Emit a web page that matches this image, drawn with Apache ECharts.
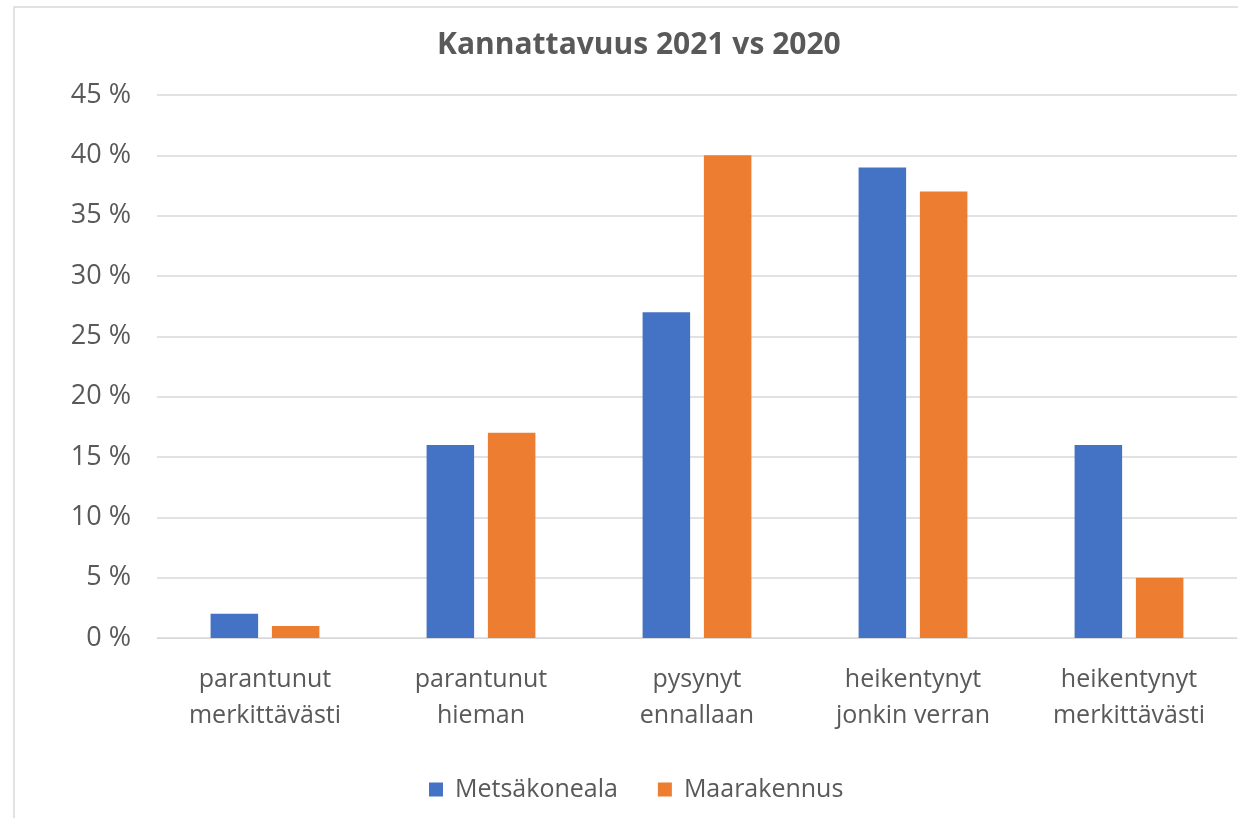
<!DOCTYPE html>
<html><head><meta charset="utf-8">
<script src="https://cdn.jsdelivr.net/npm/echarts@6/dist/echarts.min.js"></script>
<style>html,body{margin:0;padding:0;background:#fff}#c{width:1238px;height:818px}</style>
</head><body><div id="c"></div>
<script>
const categories = ['parantunut\nmerkittävästi','parantunut\nhieman','pysynyt\nennallaan','heikentynyt\njonkin verran','heikentynyt\nmerkittävästi'];
const metsakoneala = [2, 16, 27, 39, 16];
const maarakennus = [1, 17, 40, 37, 5];
const yTicks = [0,5,10,15,20,25,30,35,40,45];
const chart = echarts.init(document.getElementById('c'));
const font = 'Open Sans';
chart.setOption({
  animation:false,
  backgroundColor:'#fff',
  graphic:[{type:'rect',shape:{x:14,y:7,width:1230,height:830},style:{fill:'none',stroke:'#d9d9d9',lineWidth:1.5},silent:true}],
  title:{text:'Kannattavuus 2021 vs 2020',left:432,top:25,textStyle:{fontFamily:font,fontSize:30,fontWeight:'bold',color:'#595959'}},
  legend:{top:772,left:424,itemWidth:14,itemHeight:14,itemGap:40,icon:'rect',textStyle:{fontFamily:font,fontSize:25,color:'#595959',padding:[0,0,0,7]},data:['Metsäkoneala','Maarakennus']},
  grid:{left:157,right:1,top:95,bottom:180,containLabel:false},
  xAxis:{type:'category',data:categories,axisTick:{show:false},axisLine:{lineStyle:{color:'#d9d9d9'}},axisLabel:{fontFamily:font,fontSize:25,color:'#595959',lineHeight:36,margin:24}},
  yAxis:{type:'value',min:0,max:45,interval:5,axisLabel:{fontFamily:font,fontSize:27,color:'#595959',margin:26,formatter:v=>v+' %'},splitLine:{lineStyle:{color:'#d9d9d9',width:1.5}},axisLine:{show:false}},
  series:[
    {name:'Metsäkoneala',type:'bar',data:metsakoneala,barWidth:'22%',barGap:'29%',itemStyle:{color:'#4472C4'}},
    {name:'Maarakennus',type:'bar',data:maarakennus,barWidth:'22%',itemStyle:{color:'#ED7D31'}}
  ]
});
</script></body></html>
